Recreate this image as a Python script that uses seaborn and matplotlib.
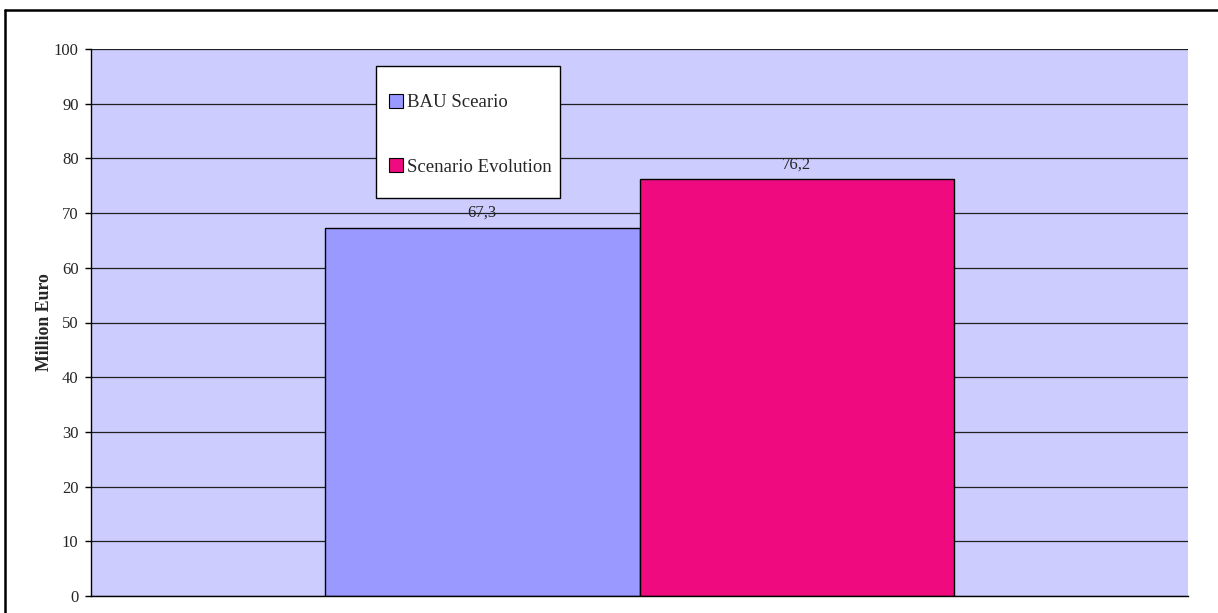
import matplotlib
matplotlib.use("Agg")
import matplotlib.pyplot as plt
from matplotlib.patches import Rectangle, Patch
from matplotlib.lines import Line2D
import seaborn as sns
import pandas as pd

# Data
scenarios = ["BAU Sceario", "Scenario Evolution"]
values = [67.3, 76.2]
bar_colors = ["#9999FF", "#EF0A80"]
y_ticks = [0, 10, 20, 30, 40, 50, 60, 70, 80, 90, 100]

df = pd.DataFrame({"group": ["", ""], "scenario": scenarios, "value": values})

sns.set_style("white")
plt.rcParams["font.family"] = ["Liberation Serif", "DejaVu Serif"]

W, H = 1218, 613
fig = plt.figure(figsize=(W / 100, H / 100), dpi=100)
ax = fig.add_axes([91 / W, 1 - 596 / H, (1188 - 91) / W, (596 - 49) / H])
ax.set_facecolor("#CCCCFF")

sns.barplot(data=df, x="group", y="value", hue="scenario", hue_order=scenarios,
            palette=bar_colors, width=0.574, edgecolor="black", linewidth=1.0,
            saturation=1, ax=ax, legend=False)

ax.set_xlim(-0.5, 0.5)
ax.set_ylim(0, 100)
ax.set_yticks(y_ticks)
ax.set_yticklabels([str(t) for t in y_ticks], fontsize=12)
ax.set_xticks([])
ax.set_xlabel("")
ax.set_ylabel("Million Euro", fontsize=12.8, fontweight="bold")
ax.yaxis.set_label_coords(-38 / (1188 - 91), 0.5)
ax.tick_params(axis="y", direction="out", length=4, width=1, color="black", pad=5, left=True)
ax.yaxis.grid(True, color="#202020", linewidth=0.9)
ax.set_axisbelow(True)
for side in ["top", "right"]:
    ax.spines[side].set_visible(False)
for side in ["left", "bottom"]:
    ax.spines[side].set_color("black")
    ax.spines[side].set_linewidth(1.0)

# value labels with decimal comma
for cont in ax.containers:
    ax.bar_label(cont, labels=[f"{v:.1f}".replace(".", ",") for v in cont.datavalues],
                 padding=5, fontsize=12)

# legend box
fig.patches.append(Rectangle((376 / W, 1 - 198 / H), (560 - 376) / W, (198 - 66) / H,
                             transform=fig.transFigure, facecolor="white",
                             edgecolor="black", linewidth=1.0, zorder=3))
handles = [Patch(facecolor=c, edgecolor="black", linewidth=0.8) for c in bar_colors]
leg = fig.legend(handles, scenarios, loc="upper left",
                 bbox_to_anchor=(389 / W, 1 - 94 / H), frameon=False,
                 fontsize=13.5, handlelength=0.75, handleheight=0.75, handletextpad=0.2,
                 labelspacing=2.5, borderpad=0, borderaxespad=0)
leg.set_zorder(4)

# outer chart frame
fig.lines.append(Line2D([5 / W, 5 / W], [0, 1 - 10 / H], transform=fig.transFigure,
                        color="black", linewidth=1.8))
fig.lines.append(Line2D([5 / W, 1], [1 - 10 / H, 1 - 10 / H], transform=fig.transFigure,
                        color="black", linewidth=1.8))

fig.savefig("out.png", dpi=100, facecolor="white")
